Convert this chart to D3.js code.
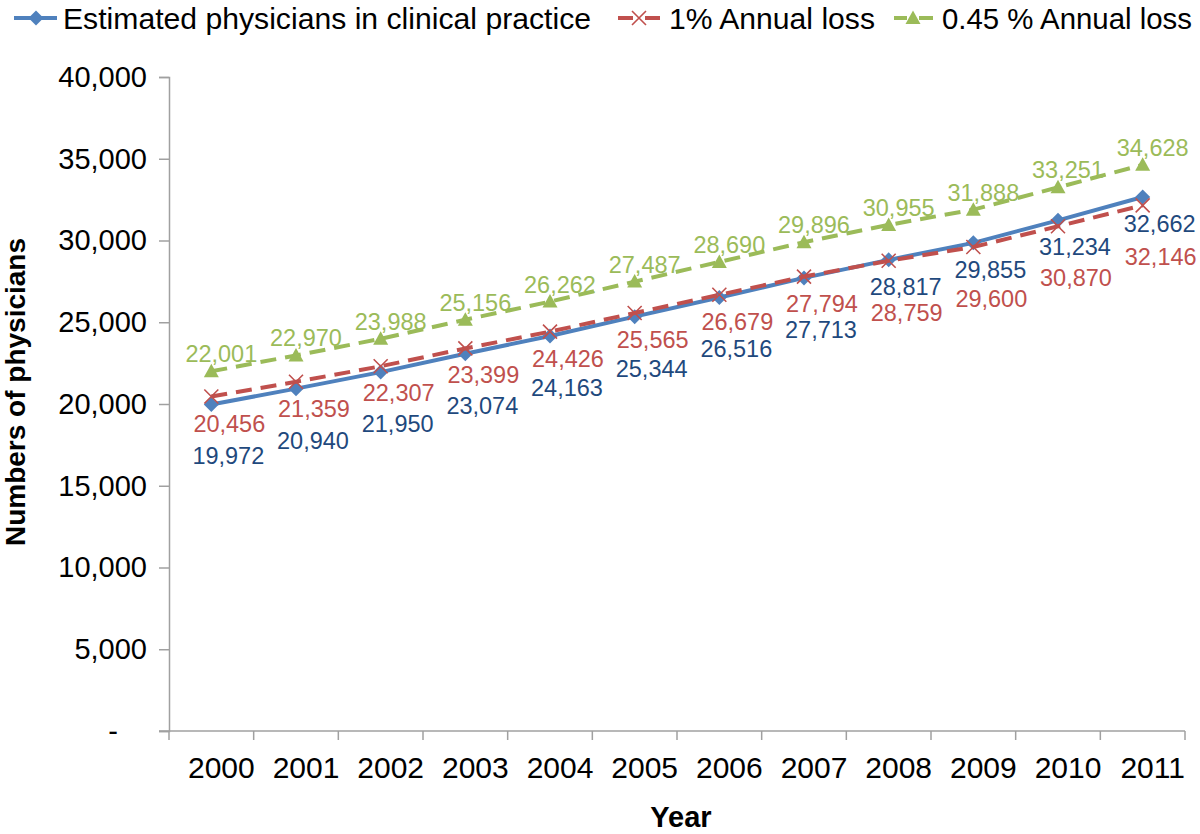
<!DOCTYPE html>
<html>
<head>
<meta charset="utf-8">
<script src="https://cdn.jsdelivr.net/npm/d3@7"></script>
<style>
  html, body { margin: 0; padding: 0; background: #fff; }
  svg { display: block; font-family: "Liberation Sans", Arial, Helvetica, sans-serif; }
</style>
</head>
<body>
<svg id="chart" width="1200" height="834"></svg>
<script>
// ---- data ----
const years = ["2000","2001","2002","2003","2004","2005","2006","2007","2008","2009","2010","2011"];
const estimated = [19972,20940,21950,23074,24163,25344,26516,27713,28817,29855,31234,32662];
const loss1 = [20456,21359,22307,23399,24426,25565,26679,27794,28759,29600,30870,32146];
const loss045 = [22001,22970,23988,25156,26262,27487,28690,29896,30955,31888,33251,34628];
const yTicks = [0,5000,10000,15000,20000,25000,30000,35000,40000];
const seriesNames = ["Estimated physicians in clinical practice","1% Annual loss","0.45 % Annual loss"];

// ---- layout ----
const svg = d3.select("#chart");
const plot = {left:169, right:1185, top:77, bottom:731};
const x = d3.scaleBand().domain(years).range([plot.left, plot.right]).padding(0);
const y = d3.scaleLinear().domain([0,40000]).range([plot.bottom, plot.top]);
const cx = d => x(d) + x.bandwidth()/2;
const axisColor = "#a0a0a0";

const colors = {blue:"#4f81bd", red:"#c0504d", green:"#9bbb59"};
const labelColors = {blue:"#1f497d", red:"#c0504d", green:"#9bbb59"};

// ---- y axis ----
const yAxis = d3.axisLeft(y).tickValues(yTicks).tickSize(10).tickPadding(12)
  .tickFormat(d => d === 0 ? "-" : d3.format(",")(d));
const gy = svg.append("g").attr("transform", `translate(${plot.left},0)`).call(yAxis);
gy.select(".domain").attr("stroke", axisColor).attr("stroke-width", 1.5);
gy.selectAll(".tick line").attr("stroke", axisColor).attr("stroke-width", 1.5);
gy.selectAll(".tick text").attr("font-size", 29).attr("fill", "#000")
  .attr("font-family", "Liberation Sans, Arial, sans-serif")
  .attr("dx", d => d === 0 ? -29 : 0);

// ---- x axis ----
const gx = svg.append("g").attr("transform", `translate(0,${plot.bottom})`);
gx.append("line").attr("x1", plot.left - 10).attr("x2", plot.right)
  .attr("stroke", axisColor).attr("stroke-width", 1.5);
const boundaries = years.map(d => x(d)).concat([x(years[years.length-1]) + x.bandwidth()]);
gx.selectAll("line.tk").data(boundaries).join("line").attr("class","tk")
  .attr("x1", d => d).attr("x2", d => d).attr("y1", 0).attr("y2", 9)
  .attr("stroke", axisColor).attr("stroke-width", 1.5);
gx.selectAll("text").data(years).join("text")
  .attr("x", d => cx(d) + 10).attr("y", 47)
  .attr("text-anchor", "middle").attr("font-size", 30).attr("fill", "#000")
  .text(d => d);

// ---- axis titles ----
svg.append("text").attr("transform", `translate(25,392) rotate(-90)`)
  .attr("text-anchor","middle").attr("font-size", 28).attr("font-weight","bold").text("Numbers of physicians");
svg.append("text").attr("x", 681).attr("y", 827)
  .attr("text-anchor","middle").attr("font-size", 29).attr("font-weight","bold").text("Year");

// ---- series ----
const line = d3.line().x((v,i) => cx(years[i])).y(v => y(v));

function drawMarker(g, type, px, py, color) {
  if (type === "diamond") {
    g.append("path").attr("d", `M${px},${py-7.5}L${px+7.5},${py}L${px},${py+7.5}L${px-7.5},${py}Z`)
      .attr("fill", color);
  } else if (type === "x") {
    g.append("path").attr("d", `M${px-7},${py-7}L${px+7},${py+7}M${px-7},${py+7}L${px+7},${py-7}`)
      .attr("stroke", color).attr("stroke-width", 1.6).attr("fill","none");
  } else if (type === "triangle") {
    g.append("path").attr("d", `M${px},${py-7.5}L${px+7.5},${py+6}L${px-7.5},${py+6}Z`)
      .attr("fill", color);
  }
}

const series = [
  {values: estimated, color: colors.blue, lc: labelColors.blue, dash: null, marker: "diamond"},
  {values: loss1, color: colors.red, lc: labelColors.red, dash: "16,9", marker: "x"},
  {values: loss045, color: colors.green, lc: labelColors.green, dash: "16,9", marker: "triangle"}
];

const gSeries = svg.append("g");
series.forEach(s => {
  const g = gSeries.append("g");
  g.append("path").attr("d", line(s.values)).attr("fill","none")
    .attr("stroke", s.color).attr("stroke-width", 4)
    .attr("stroke-dasharray", s.dash);
  s.values.forEach((v,i) => drawMarker(g, s.marker, cx(years[i]), y(v), s.color));
});

// ---- data labels ----
const gLabels = svg.append("g").attr("font-size", 23.5).attr("text-anchor","middle");
const fmt = d3.format(",");
years.forEach((yr, i) => {
  const b = estimated[i], r = loss1[i], gv = loss045[i];
  // the upper of blue/red gets its label just below its point; the lower one further down
  const blueUpper = b > r;
  const by = y(b) + (blueUpper ? 27 : 52);
  const ry = y(r) + (blueUpper ? 52 : 27);
  gLabels.append("text").attr("x", cx(yr) + 17).attr("y", by + 8).attr("fill", labelColors.blue).text(fmt(b));
  gLabels.append("text").attr("x", cx(yr) + 18).attr("y", ry + 8).attr("fill", labelColors.red).text(fmt(r));
  gLabels.append("text").attr("x", cx(yr) + 10).attr("y", y(gv) - 17 + 8).attr("fill", labelColors.green).text(fmt(gv));
});

// ---- legend ----
const gLeg = svg.append("g");
const legY = 18;
const legItems = [
  {x0: 14, x1: 57, mx: 36, tx: 63, w: 528, s: series[0]},
  {x0: 618, x1: 660, mx: 639, tx: 669, w: 206, s: series[1]},
  {x0: 894, x1: 933, mx: 913, tx: 942, w: 250, s: series[2]}
];
legItems.forEach((it, k) => {
  if (it.s.dash) {
    gLeg.append("line").attr("x1", it.x0).attr("x2", it.mx - 6).attr("y1", legY).attr("y2", legY)
      .attr("stroke", it.s.color).attr("stroke-width", 4);
    gLeg.append("line").attr("x1", it.mx + 6).attr("x2", it.x1).attr("y1", legY).attr("y2", legY)
      .attr("stroke", it.s.color).attr("stroke-width", 4);
  } else {
    gLeg.append("line").attr("x1", it.x0).attr("x2", it.x1).attr("y1", legY).attr("y2", legY)
      .attr("stroke", it.s.color).attr("stroke-width", 4);
  }
  drawMarker(gLeg, it.s.marker, it.mx, legY, it.s.color);
  gLeg.append("text").attr("x", it.tx).attr("y", legY + 11).attr("font-size", 30)
    .attr("textLength", it.w).attr("lengthAdjust", "spacingAndGlyphs")
    .attr("fill", "#000").text(seriesNames[k]);
});
</script>
</body>
</html>
